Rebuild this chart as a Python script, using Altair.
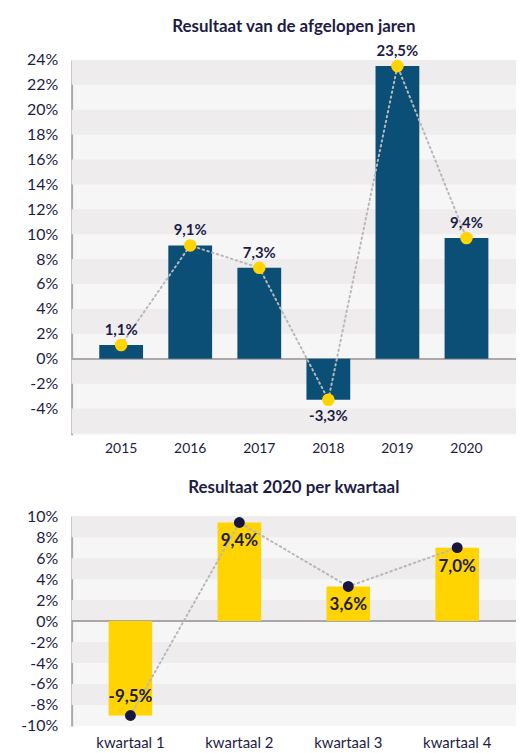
import altair as alt
import pandas as pd

FONT = "Lato"
TXT = "#1d1c45"

# ---- data: top chart ----
years = ["2015", "2016", "2017", "2018", "2019", "2020"]
year_values = [1.1, 9.1, 7.3, -3.3, 23.5, 9.7]
year_labels = ["1,1%", "9,1%", "7,3%", "-3,3%", "23,5%", "9,4%"]
top_ticks = [-4, -2, 0, 2, 4, 6, 8, 10, 12, 14, 16, 18, 20, 22, 24]

# ---- data: bottom chart ----
quarters = ["kwartaal 1", "kwartaal 2", "kwartaal 3", "kwartaal 4"]
quarter_values = [-9.0, 9.4, 3.3, 7.0]
quarter_labels = ["-9,5%", "9,4%", "3,6%", "7,0%"]
bottom_ticks = [-10, -8, -6, -4, -2, 0, 2, 4, 6, 8, 10]

top_df = pd.DataFrame({"cat": years, "v": year_values, "lab": year_labels})
bot_df = pd.DataFrame({"cat": quarters, "v": quarter_values, "lab": quarter_labels})


def bands(lo, hi, start_dark):
    rows = []
    # alternating 2%-bands, counted downward from the top
    edges = list(range(hi, lo - 1, -2))
    for i in range(len(edges) - 1):
        if (i % 2 == 0) == start_dark:
            rows.append({"a": edges[i + 1], "b": edges[i]})
    return pd.DataFrame(rows)


def panel(df, order, domain, ticks, band_df, bar_color, dot_color, dot_size,
          w, h, pad_outer, pad_inner, lab_size, pos_dy, neg_dy, xlab_size, xlab_pad,
          title, title_offset):
    yscale = alt.Scale(domain=domain, nice=False, zero=False)
    x = alt.X("cat:N", sort=order,
              scale=alt.Scale(paddingInner=pad_inner, paddingOuter=pad_outer),
              axis=alt.Axis(title=None, labelAngle=0, ticks=False, domain=False,
                            labelFont=FONT, labelFontSize=xlab_size, labelColor=TXT,
                            labelPadding=xlab_pad))
    yaxis = alt.Axis(title=None, values=ticks, labelExpr="datum.value + '%'",
                     labelOverlap=False,
                     grid=False, ticks=False, domain=True, domainColor="#a9a9a9",
                     domainWidth=2, labelFont=FONT, labelFontSize=16, labelColor=TXT,
                     labelPadding=14)
    y = alt.Y("v:Q", scale=yscale, axis=yaxis)

    band = alt.Chart(band_df).mark_rect(color="#eeeced").encode(
        y=alt.Y("a:Q", scale=yscale, axis=yaxis), y2="b:Q",
        x=alt.value(0), x2=alt.value(w))
    zero = alt.Chart(df).mark_rule(color="#a9a9a9", strokeWidth=1.5).encode(
        y=alt.datum(0, scale=yscale, axis=yaxis), x=alt.value(0), x2=alt.value(w))
    bars = alt.Chart(df).mark_bar(color=bar_color).encode(
        x=x, y=y, y2=alt.datum(0))
    line = alt.Chart(df).mark_line(color="#b8b8b8", strokeWidth=2,
                                   strokeDash=[1.5, 3.5], strokeCap="round").encode(
        x=x, y=y)
    pts = alt.Chart(df).mark_circle(color=dot_color, opacity=1, size=dot_size).encode(
        x=x, y=y)
    tpos = alt.Chart(df).transform_filter("datum.v >= 0").mark_text(
        font=FONT, fontWeight="bold", fontSize=lab_size, color=TXT, dy=pos_dy).encode(
        x=x, y=y, text="lab:N")
    tneg = alt.Chart(df).transform_filter("datum.v < 0").mark_text(
        font=FONT, fontWeight="bold", fontSize=lab_size, color=TXT, dy=neg_dy).encode(
        x=x, y=y, text="lab:N")

    return alt.layer(band, zero, bars, line, pts, tpos, tneg).properties(
        width=w, height=h,
        title=alt.TitleParams(title, font=FONT, fontSize=17, fontWeight="bold",
                              color=TXT, anchor="middle", offset=title_offset))


top = panel(top_df, years, [-6.1, 24], top_ticks, bands(-6, 24, True),
            "#0b4f77", "#ffd400", 160, 447, 377, 0.4, 0.366, 15, -15, 16, 14, 7,
            "Resultaat van de afgelopen jaren", 8)
bottom = panel(bot_df, quarters, [-10, 10], bottom_ticks, bands(-10, 10, True),
               "#ffd400", "#16163f", 120, 447, 211, 0.34, 0.6, 17, 19, -19, 15, 10,
               "Resultaat 2020 per kwartaal", 11)

chart = alt.vconcat(top, bottom, spacing=24).properties(
    padding={"left": 12, "top": 8, "right": 0, "bottom": 0}
).configure_view(fill="#f6f6f6", stroke=None).configure_axis(labelOverlap=False)

chart.save("out.html", embed_options={"renderer": "svg", "actions": False})
